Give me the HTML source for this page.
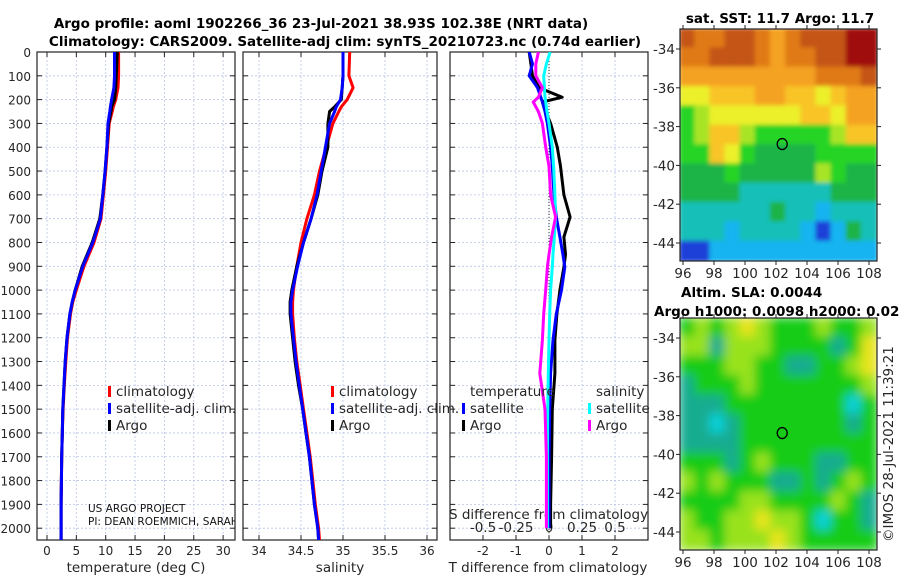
<!DOCTYPE html>
<html><head><meta charset="utf-8"><style>
body{margin:0;background:#fff;}
svg{display:block;font-family:"DejaVu Sans","Liberation Sans",sans-serif;}
.t{font-size:12px;fill:#262626;}
.a{font-size:13.5px;}
.b{font-weight:bold;fill:#000;font-size:13.5px;}
</style></head><body>
<svg id="c" width="900" height="580" viewBox="0 0 900 580">
<defs>
<clipPath id="cp1"><rect x="37" y="52" width="198" height="488"/></clipPath>
<clipPath id="cp2"><rect x="243" y="52" width="194" height="488"/></clipPath>
<clipPath id="cp3"><rect x="450" y="52" width="198" height="488"/></clipPath>
<clipPath id="cm1"><rect x="680" y="29" width="197" height="232"/></clipPath>
<clipPath id="cm2"><rect x="680" y="318" width="197" height="232"/></clipPath>
<filter id="bl" x="-5%" y="-5%" width="110%" height="110%"><feGaussianBlur stdDeviation="5"/></filter>
<filter id="bl2" x="-5%" y="-5%" width="110%" height="110%"><feGaussianBlur stdDeviation="2"/></filter>
</defs>
<text class="t b" x="321" y="28" text-anchor="middle">Argo profile: aoml 1902266_36 23-Jul-2021 38.93S 102.38E (NRT data)</text>
<text class="t b" x="345" y="46" text-anchor="middle">Climatology: CARS2009. Satellite-adj clim: synTS_20210723.nc (0.74d earlier)</text>
<g id="g"></g>
</svg>
<script>
// ---- data ----
const depths = [0,100,150,200,230,250,300,400,500,600,700,800,900,1000,1050,1100,1200,1300,1400,1500,1600,1700,1800,1900,2000,2050];
const tempArgo = [12.0,11.8,11.7,11.5,11.0,10.9,10.5,10.2,9.9,9.5,9.0,7.7,6.0,4.8,4.3,3.9,3.4,3.1,2.9,2.7,2.6,2.5,2.45,2.4,2.4,2.4];
const tempClim = [12.2,12.2,12.1,11.7,11.3,11.1,10.6,10.3,10.0,9.6,9.2,8.0,6.3,5.0,4.4,4.0,3.5,3.2,2.95,2.75,2.6,2.5,2.45,2.4,2.4,2.4];
const tempSat = [11.5,11.5,11.4,11.0,10.8,10.7,10.4,10.2,9.9,9.5,9.1,7.8,6.1,4.8,4.3,3.9,3.4,3.1,2.9,2.7,2.6,2.5,2.45,2.4,2.4,2.4];
const salArgo = [35.0,35.0,34.99,34.98,34.9,34.84,34.82,34.82,34.75,34.7,34.62,34.53,34.45,34.39,34.37,34.37,34.4,34.43,34.47,34.52,34.56,34.6,34.63,34.66,34.7,34.71];
const salClim = [35.08,35.07,35.12,35.05,34.98,34.95,34.88,34.8,34.72,34.66,34.57,34.5,34.45,34.41,34.4,34.4,34.42,34.45,34.49,34.53,34.57,34.61,34.64,34.67,34.71,34.72];
const salSat = [35.0,35.0,34.99,34.97,34.92,34.9,34.84,34.79,34.74,34.69,34.62,34.53,34.46,34.4,34.38,34.38,34.41,34.44,34.48,34.52,34.56,34.6,34.63,34.66,34.7,34.71];
const dDepths = [0,50,100,150,190,210,250,300,400,480,600,693,777,850,903,1000,1100,1210,1350,1500,1700,1900,2000];
const dTArgo = [-0.6,-0.55,-0.5,-0.3,0.4,-0.2,-0.1,0.05,0.25,0.35,0.45,0.64,0.45,0.5,0.45,0.33,0.24,0.18,0.18,0.1,0.08,0.05,0.05];
const dTSat = [-0.6,-0.5,-0.6,-0.35,-0.25,-0.2,-0.12,-0.05,0.05,0.1,0.15,0.22,0.33,0.42,0.48,0.38,0.22,0.12,0.05,0.02,0.0,0.0,0.0];
const dSArgo = [-0.08,-0.1,-0.1,-0.05,-0.08,-0.12,-0.08,-0.05,-0.025,0.0,0.012,0.05,0.02,0.0,-0.012,-0.025,-0.04,-0.05,-0.07,-0.03,-0.02,-0.02,-0.02];
const dSSat = [0.008,-0.02,-0.04,-0.035,-0.03,-0.025,-0.015,0.0,0.025,0.035,0.045,0.05,0.04,0.03,0.025,0.012,0.005,0.0,-0.005,-0.01,-0.012,-0.012,-0.012];
const depthTicks = [0,100,200,300,400,500,600,700,800,900,1000,1100,1200,1300,1400,1500,1600,1700,1800,1900,2000];
const tTicks = [0,5,10,15,20,25,30];
const sTicks = [34,34.5,35,35.5,36];
const dTTicks = [-2,-1,0,1,2];
const dSTickLabels = ["-0.5","-0.25","0","0.25","0.5"];
const lonTicks = [96,98,100,102,104,106,108];
const latTicks = [-34,-36,-38,-40,-42,-44];
const sstGrid = [
[9,8,8,9,9,8,7,8,9,9,9,10,10],
[8,8,9,9,9,8,7,8,8,9,9,10,10],
[7,7,7,7,7,7,7,7,7,8,8,8,9],
[5,5,6,6,6,7,7,6,6,5,6,7,7],
[3,4,5,5,5,5,5,5,6,6,5,7,7],
[3,4,6,6,4,3,3,3,3,3,4,6,6],
[3,3,6,5,3,2,2,2,2,3,3,3,3],
[2,2,2,3,2,2,2,2,2,4,3,2,2],
[2,2,2,2,1,1,1,1,1,1,2,2,2],
[1,1,1,1,1,1,2,1,1,0,1,1,1],
[1,1,1,0,1,1,1,1,0,-1,0,2,1],
[-1,-1,0,0,0,0,0,0,0,0,0,0,0]];
const slaGrid = [
[2,3,2,3,4,3,2,2,2,3,2,2,3],
[3,3,1,3,3,3,2,2,2,2,1,2,4],
[2,2,2,3,3,2,2,1,1,2,2,3,4],
[1,2,2,2,3,2,2,2,2,2,2,2,3],
[1,1,1,2,2,2,2,2,2,2,2,0,2],
[1,1,0,1,2,2,2,2,2,2,2,1,2],
[1,1,1,1,2,2,2,2,2,2,2,2,2],
[2,2,2,1,2,3,2,2,2,1,1,2,2],
[3,2,3,2,2,2,1,1,2,1,2,3,2],
[2,2,2,2,3,3,2,2,2,2,3,2,1],
[3,2,2,3,3,4,3,3,2,0,2,2,1],
[3,3,2,3,3,3,4,3,2,2,2,2,2]];
const argoLon = 102.4, argoLat = -38.9;

// ---- drawing ----
const NS="http://www.w3.org/2000/svg";
const G=document.getElementById('g');
function mk(tag,at,parent,txt){const e=document.createElementNS(NS,tag);for(const k in at)e.setAttribute(k,at[k]);if(txt!==undefined)e.textContent=txt;(parent||G).appendChild(e);return e;}
const yD=d=>52+d*0.2381;
const xT=t=>47+t*5.87;
const xS=s=>259+(s-34)*84;
const xDT=t=>549+t*33;
const xDS=s=>549+s*132;

function panel(x0,w,name,vticks,vfun){
  const g=mk('g',{});
  
  
  for(const d of depthTicks){mk('line',{x1:x0,x2:x0+w,y1:yD(d),y2:yD(d),stroke:'#b8c4e8','stroke-width':0.8,'stroke-dasharray':'2,2'},g);}
  vticks.forEach(v=>{const x=vfun(v);mk('line',{x1:x,x2:x,y1:52,y2:540,stroke:'#b8c4e8','stroke-width':0.8,'stroke-dasharray':'2,2'},g);
    mk('line',{x1:x,x2:x,y1:540,y2:535,stroke:'#222'},g);mk('line',{x1:x,x2:x,y1:52,y2:57,stroke:'#222'},g);});
  for(const d of depthTicks){mk('line',{x1:x0,x2:x0+5,y1:yD(d),y2:yD(d),stroke:'#222'},g);mk('line',{x1:x0+w-5,x2:x0+w,y1:yD(d),y2:yD(d),stroke:'#222'},g);}
  mk('rect',{x:x0,y:52,width:w,height:488,fill:'none',stroke:'#222','stroke-width':1.2},g);
  return g;
}
function line(xs,ds,xf,col,name,clip,sw){
  const pts=xs.map((v,i)=>xf(v).toFixed(1)+','+yD(ds[i]).toFixed(1)).join(' ');
  const p=mk('polyline',{points:pts,fill:'none',stroke:col,'stroke-width':sw||3,'clip-path':'url(#'+clip+')','stroke-linejoin':'round'});
  
  
}
panel(37,198,'temperature-panel',tTicks,xT);
panel(243,194,'salinity-panel',sTicks,xS);
panel(450,198,'difference-panel',dTTicks,xDT);
depthTicks.forEach(d=>{const t=mk('text',{x:31,y:yD(d)+5,class:'t','text-anchor':'end'},G,String(d));});
tTicks.forEach(v=>{const t=mk('text',{x:xT(v),y:555,class:'t','text-anchor':'middle'},G,String(v));});
sTicks.forEach(v=>{const t=mk('text',{x:xS(v),y:555,class:'t','text-anchor':'middle'},G,String(v));});
dTTicks.forEach(v=>{const t=mk('text',{x:xDT(v),y:555,class:'t','text-anchor':'middle'},G,String(v));});
[-0.5,-0.25,0,0.25,0.5].forEach((v,i)=>{const t=mk('text',{x:xDS(v),y:532,class:'t a','text-anchor':'middle'},G,dSTickLabels[i]);});
let e;
e=mk('text',{x:136,y:572,class:'t a','text-anchor':'middle'},G,'temperature (deg C)');
e=mk('text',{x:340,y:572,class:'t a','text-anchor':'middle'},G,'salinity');
e=mk('text',{x:548,y:572,class:'t a','text-anchor':'middle'},G,'T difference from climatology');
e=mk('text',{x:449,y:519,class:'t a'},G,'S difference from climatology');
mk('line',{x1:xDT(0),x2:xDT(0),y1:52,y2:540,stroke:'#333','stroke-dasharray':'1,2'});
line(tempClim,depths,xT,'#ff0000','temp-climatology-line','cp1');
line(tempArgo,depths,xT,'#000','temp-argo-line','cp1');
line(tempSat,depths,xT,'#0000ff','temp-satellite-line','cp1');
line(salClim,depths,xS,'#ff0000','sal-climatology-line','cp2');
line(salArgo,depths,xS,'#000','sal-argo-line','cp2');
line(salSat,depths,xS,'#0000ff','sal-satellite-line','cp2');
line(dTArgo,dDepths,xDT,'#000','t-diff-argo-line','cp3');
line(dTSat,dDepths,xDT,'#0000ff','t-diff-satellite-line','cp3');
line(dSSat,dDepths,xDS,'#00ffff','s-diff-satellite-line','cp3');
line(dSArgo,dDepths,xDS,'#ff00ff','s-diff-argo-line','cp3');
function leg(x,y,col,txt,name){const g=mk('g',{});
  if(col)mk('rect',{x:x,y:y-10,width:3,height:11,fill:col},g);mk('text',{x:x+8,y:y,class:'t a'},g,txt);}
leg(108,396,'#ff0000','climatology','legend-entry-climatology');
leg(108,413,'#0000ff','satellite-adj. clim.','legend-entry-satellite-adj');
leg(108,430,'#000','Argo','legend-entry-argo');
leg(331,396,'#ff0000','climatology','legend-entry-climatology');
leg(331,413,'#0000ff','satellite-adj. clim.','legend-entry-satellite-adj');
leg(331,430,'#000','Argo','legend-entry-argo');
leg(462,396,null,'temperature','legend-header-temperature');
leg(462,413,'#0000ff','satellite','legend-entry-t-satellite');
leg(462,430,'#000','Argo','legend-entry-t-argo');
leg(588,396,null,'salinity','legend-header-salinity');
leg(588,413,'#00ffff','satellite','legend-entry-s-satellite');
leg(588,430,'#ff00ff','Argo','legend-entry-s-argo');
const cr=mk('g',{'clip-path':'url(#cp1)'});
mk('text',{x:88,y:512,'font-size':'10.5px',fill:'#111'},cr,'US ARGO PROJECT');
mk('text',{x:88,y:525,'font-size':'10.5px',fill:'#111'},cr,'PI: DEAN ROEMMICH, SARAH');
const sstCol={'-1':'#1a40d8','0':'#18b4f0','1':'#14c0b8','2':'#1eb446','3':'#28d428','4':'#a8e428','5':'#ecf02a','6':'#f8c428','7':'#f4a224','8':'#e07a14','9':'#c45414','10':'#a00808'};
const slaCol={'0':'#10d0d8','1':'#18ac90','2':'#14cc14','3':'#98e21e','4':'#e8e41e'};
function map(y0,grid,cols,clip,name,blur){
  const g=mk('g',{'clip-path':'url(#'+clip+')'});
  const inner=mk('g',{filter:'url(#'+blur+')'},g);
  const cw=197/13,ch=232/12;
  grid.forEach((row,r)=>row.forEach((v,c)=>{const rc=mk('rect',{x:(680+c*cw-1).toFixed(1),y:(y0+r*ch-1).toFixed(1),width:(cw+2).toFixed(1),height:(ch+2).toFixed(1),fill:cols[String(v)]},inner);
    }));
  const lx=x=>683+(x-96)*15.5, ly0=y0+20, ly=l=>ly0+(-34-l)*19.4;
  mk('rect',{x:680,y:y0,width:197,height:232,fill:'none',stroke:'#222','stroke-width':1.2});
  lonTicks.forEach(v=>{mk('line',{x1:lx(v),x2:lx(v),y1:y0+232,y2:y0+236,stroke:'#222'});mk('line',{x1:lx(v),x2:lx(v),y1:y0,y2:y0-4,stroke:'#222'});
    const t=mk('text',{x:lx(v),y:y0+249,class:'t a','text-anchor':'middle'},G,String(v));});
  latTicks.forEach(v=>{mk('line',{x1:676,x2:680,y1:ly(v),y2:ly(v),stroke:'#222'});mk('line',{x1:877,x2:881,y1:ly(v),y2:ly(v),stroke:'#222'});
    const t=mk('text',{x:675,y:ly(v)+5,class:'t a','text-anchor':'end'},G,String(v));});
  const c=mk('ellipse',{cx:lx(argoLon),cy:ly(argoLat),rx:5,ry:5.5,fill:'none',stroke:'#000','stroke-width':1.3});
  
}
map(29,sstGrid,sstCol,'cm1','sst-map','bl2');
map(318,slaGrid,slaCol,'cm2','sla-map','bl');
e=mk('text',{x:780,y:23,class:'t b','text-anchor':'middle'},G,'sat. SST: 11.7 Argo: 11.7');
e=mk('text',{x:681,y:297,class:'t b'},G,'Altim. SLA: 0.0044');
e=mk('text',{x:654,y:316,class:'t b'},G,'Argo h1000: 0.0098 h2000: 0.026');
e=mk('text',{x:0,y:0,class:'t a',transform:'translate(893,542) rotate(-90)'},G,'©IMOS 28-Jul-2021 11:39:21');
</script>
</body></html>
